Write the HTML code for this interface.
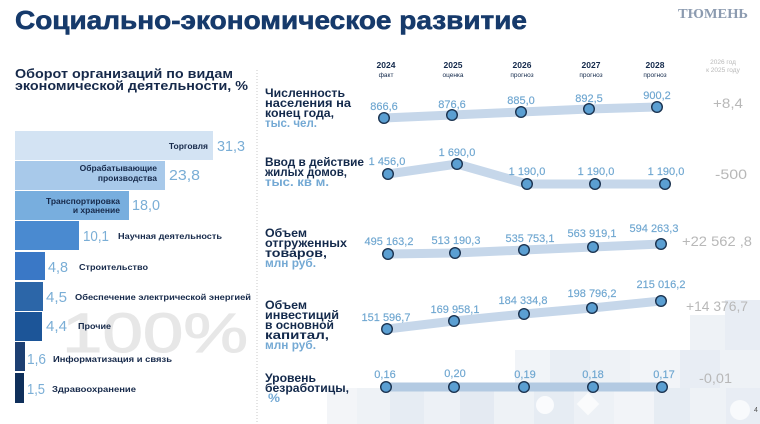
<!DOCTYPE html>
<html><head><meta charset="utf-8">
<style>
html,body{margin:0;padding:0;background:#fff;}
svg{display:block;}
text{font-family:"Liberation Sans","Noto Sans CJK SC",sans-serif;}
.cat{font-size:8.5px;font-weight:bold;fill:#16294a;}
.num{font-size:14.5px;fill:#7aaed6;}
.lbl{font-size:11.5px;font-weight:bold;fill:#13294b;}
.unit{font-size:11.5px;font-weight:bold;fill:#74a9d4;}
.val{font-size:11px;fill:#6ea6d0;text-anchor:middle;stroke:#6ea6d0;stroke-width:0.15;}
.dlt{font-size:13.5px;fill:#b8b8b8;}
.yr{font-size:8.5px;font-weight:bold;fill:#13294b;text-anchor:middle;}
.ys{font-size:6.5px;fill:#13294b;text-anchor:middle;}
.band{fill:none;stroke:#c6d7ea;stroke-width:9;}
.pt{fill:#5b9fd2;stroke:#1b3350;stroke-width:1.4;}
</style></head>
<body>
<svg width="760" height="424" viewBox="0 0 760 424" xmlns="http://www.w3.org/2000/svg">
<rect width="760" height="424" fill="#ffffff"/>

<!-- background tiles -->
<g>
<rect x="327" y="388" width="30" height="36" fill="#f3f5f8"/>
<rect x="357" y="388" width="33" height="36" fill="#eef2f6"/>
<rect x="390" y="388" width="34" height="36" fill="#e6ecf3"/>
<rect x="424" y="388" width="36" height="36" fill="#edf1f6"/>
<rect x="460" y="388" width="34" height="36" fill="#e4eaf2"/>
<rect x="494" y="388" width="40" height="36" fill="#eef2f6"/>
<rect x="534" y="388" width="40" height="36" fill="#e6ecf3"/>
<rect x="574" y="388" width="40" height="36" fill="#edf1f6"/>
<rect x="614" y="388" width="40" height="36" fill="#f2f4f8"/>
<rect x="654" y="388" width="36" height="36" fill="#e6ecf3"/>
<rect x="690" y="388" width="36" height="36" fill="#eef2f6"/>
<rect x="726" y="388" width="34" height="36" fill="#e8edf4"/>
<rect x="515" y="350" width="35" height="38" fill="#f1f4f8"/>
<rect x="550" y="350" width="40" height="38" fill="#e9eef4"/>
<rect x="590" y="350" width="40" height="38" fill="#eef2f6"/>
<rect x="630" y="350" width="50" height="38" fill="#f2f4f8"/>
<rect x="680" y="350" width="40" height="38" fill="#e8edf4"/>
<rect x="720" y="350" width="40" height="38" fill="#eef2f6"/>
<rect x="690" y="315" width="35" height="35" fill="#eef2f6"/>
<rect x="725" y="300" width="35" height="50" fill="#e8edf4"/>
<circle cx="545" cy="405" r="9" fill="#ffffff" opacity="0.8"/>
<rect x="580" y="396" width="16" height="16" fill="#ffffff" opacity="0.7" transform="rotate(45 588 404)"/>
<circle cx="740" cy="410" r="10" fill="#ffffff" opacity="0.7"/>
</g>

<!-- title -->
<text x="15" y="29" font-size="26" font-weight="bold" fill="#163a6b" stroke="#163a6b" stroke-width="0.6" textLength="512" lengthAdjust="spacingAndGlyphs">Социально-экономическое развитие</text>
<text x="678" y="18" font-size="14" font-weight="bold" fill="#8c9bb0" textLength="70" lengthAdjust="spacingAndGlyphs" style="font-family:'Liberation Serif',serif">ТЮМЕНЬ</text>

<!-- subtitle -->
<text x="15" y="78" font-size="12.5" font-weight="bold" fill="#16294a" textLength="218" lengthAdjust="spacingAndGlyphs">Оборот организаций по видам</text>
<text x="15" y="90" font-size="12.5" font-weight="bold" fill="#16294a" textLength="233" lengthAdjust="spacingAndGlyphs">экономической деятельности, %</text>

<!-- separator -->
<line x1="257" y1="70" x2="257" y2="424" stroke="#c9c9c9" stroke-width="1" stroke-dasharray="1,2"/>

<!-- 100% watermark -->
<text x="62" y="352" font-size="56" fill="#e7e7e7" stroke="#e7e7e7" stroke-width="1" textLength="186" lengthAdjust="spacingAndGlyphs">100%</text>

<!-- bars -->
<rect x="15" y="131" width="198" height="29" fill="#d3e3f3"/>
<rect x="15" y="161" width="150" height="29" fill="#a8c9ea"/>
<rect x="15" y="191" width="114" height="29" fill="#78aede"/>
<rect x="15" y="221" width="64" height="29" fill="#4a8ad0"/>
<rect x="15" y="252" width="30" height="28" fill="#3a78c6"/>
<rect x="15" y="282" width="28" height="29" fill="#2c66a8"/>
<rect x="15" y="312" width="27" height="29" fill="#1c5598"/>
<rect x="15" y="342" width="10" height="29" fill="#1d3f72"/>
<rect x="15" y="373" width="9" height="30" fill="#0f2f5a"/>

<text class="cat" x="208" y="149" text-anchor="end">Торговля</text>
<text class="num" x="217" y="151" textLength="28" lengthAdjust="spacingAndGlyphs">31,3</text>
<text class="cat" x="157" y="171" text-anchor="end">Обрабатывающие</text>
<text class="cat" x="157" y="181" text-anchor="end">производства</text>
<text class="num" x="169" y="180" textLength="31" lengthAdjust="spacingAndGlyphs">23,8</text>
<text class="cat" x="120" y="204" text-anchor="end">Транспортировка</text>
<text class="cat" x="120" y="213" text-anchor="end">и хранение</text>
<text class="num" x="132" y="210" textLength="28" lengthAdjust="spacingAndGlyphs">18,0</text>
<text class="num" x="83" y="241" textLength="26" lengthAdjust="spacingAndGlyphs">10,1</text>
<text class="cat" x="118" y="239" textLength="104" lengthAdjust="spacingAndGlyphs">Научная деятельность</text>
<text class="num" x="48" y="272" textLength="20" lengthAdjust="spacingAndGlyphs">4,8</text>
<text class="cat" x="79" y="270" textLength="69" lengthAdjust="spacingAndGlyphs">Строительство</text>
<text class="num" x="46" y="302" textLength="21" lengthAdjust="spacingAndGlyphs">4,5</text>
<text class="cat" x="75" y="300" textLength="176" lengthAdjust="spacingAndGlyphs">Обеспечение электрической энергией</text>
<text class="num" x="46" y="331" textLength="21" lengthAdjust="spacingAndGlyphs">4,4</text>
<text class="cat" x="78" y="329" textLength="33" lengthAdjust="spacingAndGlyphs">Прочие</text>
<text class="num" x="27" y="364" textLength="19" lengthAdjust="spacingAndGlyphs">1,6</text>
<text class="cat" x="53" y="362" textLength="119" lengthAdjust="spacingAndGlyphs">Информатизация и связь</text>
<text class="num" x="27" y="394" textLength="18" lengthAdjust="spacingAndGlyphs">1,5</text>
<text class="cat" x="52" y="392" textLength="84" lengthAdjust="spacingAndGlyphs">Здравоохранение</text>

<!-- year headers -->
<text class="yr" x="386" y="68">2024</text><text class="ys" x="386" y="77">факт</text>
<text class="yr" x="453" y="68">2025</text><text class="ys" x="453" y="77">оценка</text>
<text class="yr" x="522" y="68">2026</text><text class="ys" x="522" y="77">прогноз</text>
<text class="yr" x="591" y="68">2027</text><text class="ys" x="591" y="77">прогноз</text>
<text class="yr" x="655" y="68">2028</text><text class="ys" x="655" y="77">прогноз</text>
<text x="723" y="64" font-size="6.5" fill="#b8b8b8" text-anchor="middle">2026 год</text>
<text x="723" y="72" font-size="6.5" fill="#b8b8b8" text-anchor="middle">к 2025 году</text>

<!-- row 1 -->
<text class="lbl" x="265" y="97" textLength="80" lengthAdjust="spacingAndGlyphs">Численность</text>
<text class="lbl" x="265" y="107" textLength="86" lengthAdjust="spacingAndGlyphs">населения  на</text>
<text class="lbl" x="265" y="117" textLength="69" lengthAdjust="spacingAndGlyphs">конец года,</text>
<text class="unit" x="265" y="127" textLength="52" lengthAdjust="spacingAndGlyphs">тыс. чел.</text>
<polyline class="band" points="384,118 452,115 521,112 589,109 657,107"/>
<circle class="pt" cx="384" cy="118" r="5.3"/><circle class="pt" cx="452" cy="115" r="5.3"/><circle class="pt" cx="521" cy="112" r="5.3"/><circle class="pt" cx="589" cy="109" r="5.3"/><circle class="pt" cx="657" cy="107" r="5.3"/>
<text class="val" x="384" y="110">866,6</text>
<text class="val" x="452" y="108">876,6</text>
<text class="val" x="521" y="104">885,0</text>
<text class="val" x="589" y="102">892,5</text>
<text class="val" x="657" y="99">900,2</text>
<text class="dlt" x="713" y="108" textLength="30" lengthAdjust="spacingAndGlyphs">+8,4</text>

<!-- row 2 -->
<text class="lbl" x="265" y="166" textLength="99" lengthAdjust="spacingAndGlyphs">Ввод в действие</text>
<text class="lbl" x="265" y="176" textLength="82" lengthAdjust="spacingAndGlyphs">жилых домов,</text>
<text class="unit" x="265" y="186" textLength="64" lengthAdjust="spacingAndGlyphs">тыс. кв м.</text>
<polyline class="band" points="388,174 457,164 527,184 595,184 665,184"/>
<circle class="pt" cx="388" cy="174" r="5.3"/><circle class="pt" cx="457" cy="164" r="5.3"/><circle class="pt" cx="527" cy="184" r="5.3"/><circle class="pt" cx="595" cy="184" r="5.3"/><circle class="pt" cx="665" cy="184" r="5.3"/>
<text class="val" x="387" y="165">1 456,0</text>
<text class="val" x="457" y="156">1 690,0</text>
<text class="val" x="527" y="175">1 190,0</text>
<text class="val" x="596" y="175">1 190,0</text>
<text class="val" x="666" y="175">1 190,0</text>
<text class="dlt" x="715" y="179" textLength="32" lengthAdjust="spacingAndGlyphs">-500</text>

<!-- row 3 -->
<text class="lbl" x="265" y="237" textLength="42" lengthAdjust="spacingAndGlyphs">Объем</text>
<text class="lbl" x="265" y="247" textLength="82" lengthAdjust="spacingAndGlyphs">отгруженных</text>
<text class="lbl" x="265" y="257" textLength="62" lengthAdjust="spacingAndGlyphs">товаров,</text>
<text class="unit" x="265" y="267" textLength="51" lengthAdjust="spacingAndGlyphs">млн руб.</text>
<polyline class="band" points="388,254 455,253 524,250 593,247 661,244"/>
<circle class="pt" cx="388" cy="254" r="5.3"/><circle class="pt" cx="455" cy="253" r="5.3"/><circle class="pt" cx="524" cy="250" r="5.3"/><circle class="pt" cx="593" cy="247" r="5.3"/><circle class="pt" cx="661" cy="244" r="5.3"/>
<text class="val" x="389" y="245">495 163,2</text>
<text class="val" x="456" y="244">513 190,3</text>
<text class="val" x="530" y="242">535 753,1</text>
<text class="val" x="592" y="237">563 919,1</text>
<text class="val" x="654" y="232">594 263,3</text>
<text class="dlt" x="682" y="246" textLength="70" lengthAdjust="spacingAndGlyphs">+22 562 ,8</text>

<!-- row 4 -->
<text class="lbl" x="265" y="309" textLength="42" lengthAdjust="spacingAndGlyphs">Объем</text>
<text class="lbl" x="265" y="319" textLength="74" lengthAdjust="spacingAndGlyphs">инвестиций</text>
<text class="lbl" x="265" y="329" textLength="69" lengthAdjust="spacingAndGlyphs">в основной</text>
<text class="lbl" x="265" y="339" textLength="64" lengthAdjust="spacingAndGlyphs">капитал,</text>
<text class="unit" x="265" y="349" textLength="51" lengthAdjust="spacingAndGlyphs">млн руб.</text>
<polyline class="band" points="387,329 454,321 524,314 592,308 661,301"/>
<circle class="pt" cx="387" cy="329" r="5.3"/><circle class="pt" cx="454" cy="321" r="5.3"/><circle class="pt" cx="524" cy="314" r="5.3"/><circle class="pt" cx="592" cy="308" r="5.3"/><circle class="pt" cx="661" cy="301" r="5.3"/>
<text class="val" x="386" y="321">151 596,7</text>
<text class="val" x="455" y="313">169 958,1</text>
<text class="val" x="523" y="304">184 334,8</text>
<text class="val" x="592" y="297">198 796,2</text>
<text class="val" x="661" y="288">215 016,2</text>
<text class="dlt" x="686" y="311" textLength="62" lengthAdjust="spacingAndGlyphs">+14 376,7</text>

<!-- row 5 -->
<text class="lbl" x="265" y="382" textLength="51" lengthAdjust="spacingAndGlyphs">Уровень</text>
<text class="lbl" x="265" y="392" textLength="84" lengthAdjust="spacingAndGlyphs">безработицы,</text>
<text class="unit" x="268" y="402" textLength="12" lengthAdjust="spacingAndGlyphs">%</text>
<polyline class="band" points="386,387 454,387 524,387 593,387 662,387" style="stroke:#b3cae2"/>
<circle class="pt" cx="386" cy="387" r="5.3"/><circle class="pt" cx="454" cy="387" r="5.3"/><circle class="pt" cx="524" cy="387" r="5.3"/><circle class="pt" cx="593" cy="387" r="5.3"/><circle class="pt" cx="662" cy="387" r="5.3"/>
<text class="val" x="385" y="378">0,16</text>
<text class="val" x="455" y="377">0,20</text>
<text class="val" x="525" y="378">0,19</text>
<text class="val" x="593" y="378">0,18</text>
<text class="val" x="664" y="378">0,17</text>
<text class="dlt" x="699" y="383" textLength="33" lengthAdjust="spacingAndGlyphs">-0,01</text>

<text x="754" y="412" font-size="7" fill="#555">4</text>
</svg>
</body></html>
